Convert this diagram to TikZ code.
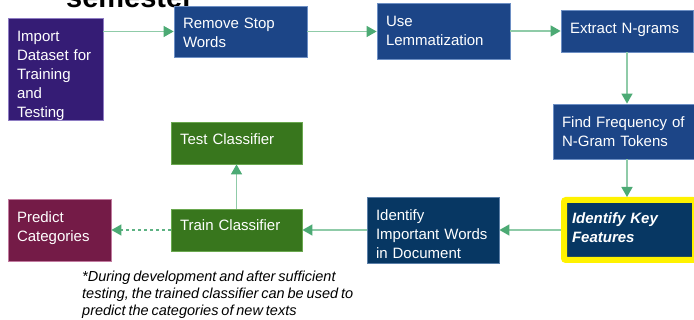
\documentclass[tikz,border=0pt]{standalone}
\usepackage{fontspec}
\setmainfont{Liberation Sans}
\usetikzlibrary{arrows.meta}

\definecolor{importfill}{HTML}{351C75}
\definecolor{importline}{HTML}{8E7CC3}
\definecolor{prepfill}{HTML}{1C4587}
\definecolor{prepline}{HTML}{6D8FC4}
\definecolor{featfill}{HTML}{073763}
\definecolor{featline}{HTML}{5B7FA8}
\definecolor{clsfill}{HTML}{38761D}
\definecolor{clsline}{HTML}{6AA84F}
\definecolor{predfill}{HTML}{741B47}
\definecolor{predline}{HTML}{C27BA0}
\definecolor{flowline}{HTML}{8FCBA8}
\definecolor{flowhead}{HTML}{4CAA74}
\definecolor{flowdash}{HTML}{5DB283}

% text height / text depth place the first baseline inside each box
\tikzset{
  stepbox/.style={draw, line width=0.8pt, text=white, align=left,
    inner xsep=9pt, inner ysep=0pt, text height=0pt, text depth=0pt,
    font=\fontsize{15}{19}\selectfont},
  flow/.style={draw=flowline, line width=1.4pt,
    -{Triangle[length=10pt,width=11pt,color=flowhead]}},
  flowdashed/.style={draw=flowdash, line width=1.2pt, dash pattern=on 3pt off 3pt,
    -{Triangle[length=10pt,width=11pt,color=flowhead]}},
}

\begin{document}
\begin{tikzpicture}[x=1pt,y=-1pt]
\clip (0,0) rectangle (694,320);
\fill[white] (0,0) rectangle (694,320);

% slide title, only its lower part lies in the frame
\node[anchor=base west, inner sep=0pt, font=\fontsize{29}{34}\selectfont\bfseries]
  (title) at (66,7.5) {semester};

% preprocessing pipeline
\node[stepbox, fill=importfill, draw=importline, minimum width=95pt, minimum height=102pt,
  text width=77pt, text depth=54pt] (imp) at (55.5,69)
  {Import\\Dataset for\\Training\\and\\Testing};
\node[stepbox, fill=prepfill, draw=prepline, minimum width=133pt, minimum height=51pt,
  text width=115pt, text depth=5.6pt] (rem) at (240.5,31.5) {Remove Stop\\Words};
\node[stepbox, fill=prepfill, draw=prepline, minimum width=133pt, minimum height=56pt,
  text width=115pt, text depth=9.2pt] (lem) at (443.5,31) {Use\\Lemmatization};
\node[stepbox, fill=prepfill, draw=prepline, minimum width=132pt, minimum height=42pt,
  text width=114pt, text height=4.2pt] (ext) at (627,31) {Extract N-grams};
\node[stepbox, fill=prepfill, draw=prepline, minimum width=148pt, minimum height=55pt,
  text width=130pt, text depth=8.8pt] (find) at (627,131.5)
  {Find Frequency of\\N-Gram Tokens};

% feature selection
\node[stepbox, fill=featfill, draw=yellow, line width=6pt, rounded corners=2pt,
  inner xsep=8pt, minimum width=131pt, minimum height=60pt, text width=115pt,
  text depth=13.8pt, font=\fontsize{15}{19}\selectfont\bfseries\itshape]
  (key) at (629.5,230) {Identify Key\\Features};
\node[stepbox, fill=featfill, draw=featline, minimum width=132pt, minimum height=66pt,
  text width=114pt, text depth=19.2pt] (imw) at (433,230)
  {Identify\\Important Words\\in Document};

% classification
\node[stepbox, fill=clsfill, draw=clsline, minimum width=131pt, minimum height=42pt,
  text width=113pt, text height=2pt] (train) at (236.5,230) {Train Classifier};
\node[stepbox, fill=clsfill, draw=clsline, minimum width=131pt, minimum height=42pt,
  text width=113pt, text height=2.6pt] (test) at (236.5,143) {Test Classifier};
\node[stepbox, fill=predfill, draw=predline, minimum width=103pt, minimum height=62pt,
  text width=85pt, text depth=15.8pt] (pred) at (59.5,230) {Predict\\Categories};

% connectors
\draw[flow] (rem.west -| imp.east) -- (rem.west);
\draw[flow] (rem.east) -- (lem.west |- rem.east);
\draw[flow] (lem.east |- ext.west) -- (ext.west);
\draw[flow] (ext.south) -- (find.north);
\draw[flow] (find.south) -- (find.south |- key.north);
\draw[flow] (key.west) -- (imw.east |- key.west);
\draw[flow] (imw.west) -- (train.east |- imw.west);
\draw[flow] (train.north) -- (test.south);
\draw[flowdashed] (train.west) -- (pred.east);

% footnote, set with tight word spacing
\node[anchor=base west, inner sep=0pt, align=left, text width=300pt,
  font=\fontsize{14.5}{17}\selectfont\itshape]
  (note) at (82,281.5)
  {\spaceskip=0.2em plus 0.05em\relax
   *During development and after sufficient\\
   testing, the trained classifier can be used to\\
   predict the categories of new texts};
\end{tikzpicture}
\end{document}
